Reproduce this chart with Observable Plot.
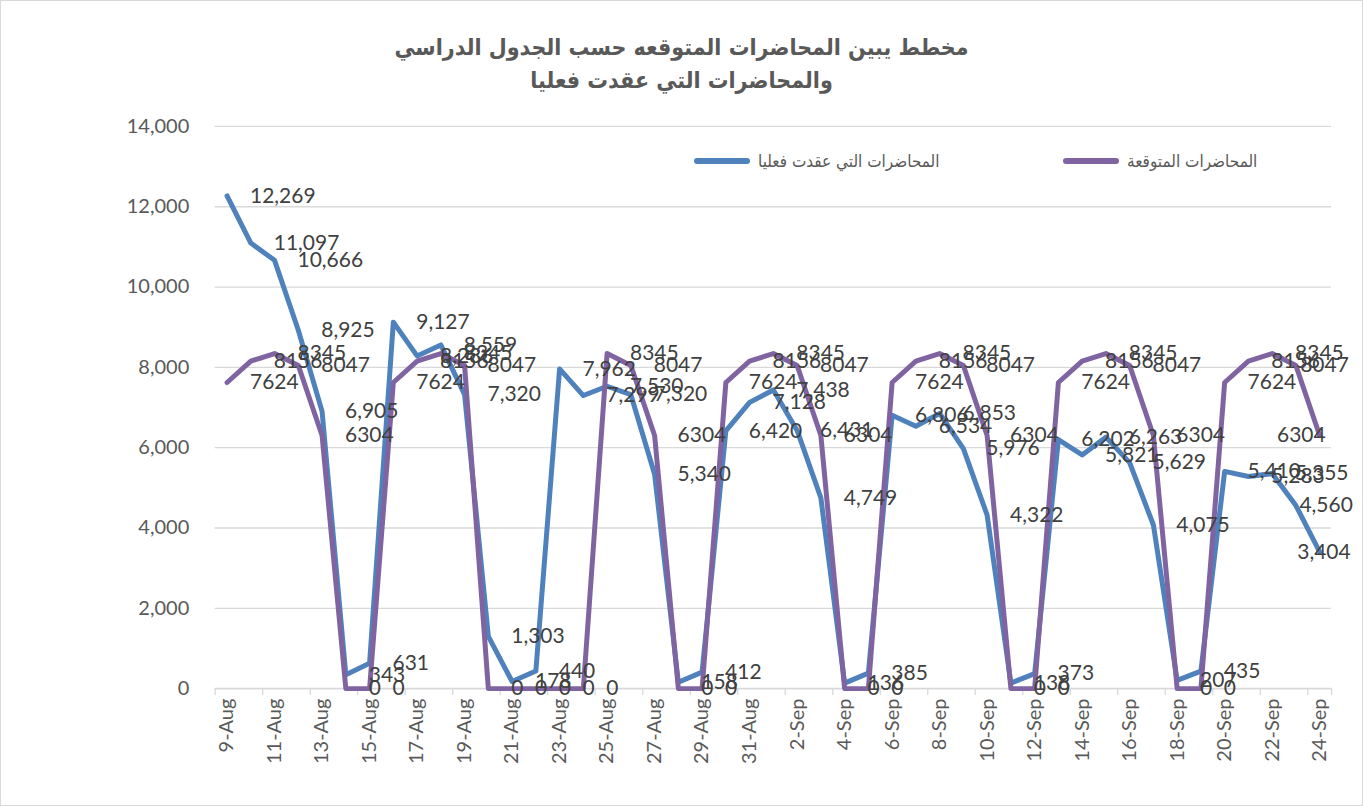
<!DOCTYPE html>
<html><head><meta charset="utf-8">
<script src="https://cdn.jsdelivr.net/npm/d3@7"></script>
<script src="https://cdn.jsdelivr.net/npm/@observablehq/plot@0.6"></script>
<style>
body{margin:0;background:#fff;}
#frame{position:relative;width:1361px;height:804px;border:1px solid #d9d9d9;overflow:hidden;font-family:Lato,"DejaVu Sans",sans-serif;background:#fff;}
#title{position:absolute;top:30px;left:0;width:100%;text-align:center;font-weight:bold;font-size:23px;font-family:"DejaVu Sans Condensed","DejaVu Sans",sans-serif;color:#595959;line-height:33px;direction:rtl;}
.leg{position:absolute;top:149px;height:22px;display:flex;align-items:center;direction:ltr;font-family:"DejaVu Sans Condensed","DejaVu Sans",sans-serif;font-size:17px;color:#595959;}
.sw{display:inline-block;width:56px;height:6px;border-radius:3px;margin-right:8px;}
#chart{position:absolute;top:100px;left:0;}
</style>
</head><body>
<div id="frame">
  <div id="title">مخطط يبين المحاضرات المتوقعه حسب الجدول الدراسي<br>والمحاضرات التي عقدت فعليا</div>
  <div class="leg" style="left:693px"><span class="sw" id="sw1"></span><span id="lt1"></span></div>
  <div class="leg" style="left:1062px"><span class="sw" id="sw2"></span><span id="lt2"></span></div>
  <div id="chart"></div>
</div>
<script>
const categories = ["9-Aug","10-Aug","11-Aug","12-Aug","13-Aug","14-Aug","15-Aug","16-Aug","17-Aug","18-Aug","19-Aug","20-Aug","21-Aug","22-Aug","23-Aug","24-Aug","25-Aug","26-Aug","27-Aug","28-Aug","29-Aug","30-Aug","31-Aug","1-Sep","2-Sep","3-Sep","4-Sep","5-Sep","6-Sep","7-Sep","8-Sep","9-Sep","10-Sep","11-Sep","12-Sep","13-Sep","14-Sep","15-Sep","16-Sep","17-Sep","18-Sep","19-Sep","20-Sep","21-Sep","22-Sep","23-Sep","24-Sep"];
const actual = [12269,11097,10666,8925,6905,343,631, 9127,8286,8559,7320,1303,178,440, 7962,7299,7530,7320,5340,158,412, 6420,7128,7438,6431,4749,136,385, 6806,6534,6853,5976,4322,138,373, 6202,5821,6263,5629,4075,207,435, 5410,5283,5355,4560,3404];
const expected = [7624,8156,8345,8047,6304,0,0, 7624,8156,8345,8047,0,0,0, 0,0,8345,8047,6304,0,0, 7624,8156,8345,8047,6304,0,0, 7624,8156,8345,8047,6304,0,0, 7624,8156,8345,8047,6304,0,0, 7624,8156,8345,8047,6304];
const yTicks = [0,2000,4000,6000,8000,10000,12000,14000];
const seriesNames = ["المحاضرات التي عقدت فعليا","المحاضرات المتوقعة"];
const colors = ["#4f81bd","#8064a2"];

document.getElementById("lt1").textContent = seriesNames[0];
document.getElementById("lt2").textContent = seriesNames[1];
document.getElementById("sw1").style.background = colors[0];
document.getElementById("sw2").style.background = colors[1];

const data = categories.map((c,i)=>({c, i, actual: actual[i], expected: expected[i]}));
const n = categories.length;
const W = 1363, mL = 214, mR = 31;
const step = (W - mL - mR) / n;
const labelCats = categories.filter((c,i)=> i % 2 === 0);
const fmt = d3.format(",");
// labels near the right edge are pulled inside the chart area (as the spreadsheet does)
const inner = data.filter(d => d.i < n - 2);
const pen = data.filter(d => d.i === n - 2);
const last = data.filter(d => d.i === n - 1);
const lab = {textAnchor: "start", fontSize: 21, fill: "#404040"};
const labEnd = {textAnchor: "end", fontSize: 21, fill: "#404040"};

const chart = Plot.plot({
  width: W, height: 706,
  marginTop: 25, marginBottom: 118, marginLeft: mL, marginRight: mR,
  style: {fontFamily: "Lato, sans-serif", background: "transparent"},
  x: {type: "point", domain: categories, padding: 0.5},
  y: {domain: [0, 14000]},
  marks: [
    Plot.gridY(yTicks.slice(1), {stroke: "#d9d9d9", strokeOpacity: 1, strokeWidth: 1.3}),
    Plot.axisY(yTicks, {tickSize: 0, tickPadding: 26, tickFormat: fmt, fontSize: 20, fill: "#595959", label: null}),
    Plot.ruleY([0], {stroke: "#d9d9d9", strokeWidth: 1.6}),
    Plot.axisX(labelCats, {tickSize: 7, tickFormat: null, dx: -step/2, stroke: "#d9d9d9", strokeWidth: 1.3, label: null}),
    Plot.axisX([categories[n-1]], {tickSize: 7, tickFormat: null, dx: step/2, stroke: "#d9d9d9", strokeWidth: 1.3, label: null}),
    Plot.axisX(labelCats, {tickSize: 0, tickRotate: -90, tickPadding: 10, fontSize: 20, fill: "#595959", label: null}),
    Plot.line(data, {x: "c", y: "actual", stroke: colors[0], strokeWidth: 5}),
    Plot.line(data, {x: "c", y: "expected", stroke: colors[1], strokeWidth: 5}),
    Plot.text(inner, {x: "c", y: "actual", text: d => fmt(d.actual), dx: 23, ...lab}),
    Plot.text(inner, {x: "c", y: "expected", text: d => String(d.expected), dx: 23, ...lab}),
    Plot.text(pen, {x: "c", y: "actual", text: d => fmt(d.actual), dx: 57, ...labEnd}),
    Plot.text(pen, {x: "c", y: "expected", text: d => String(d.expected), dx: 53, ...labEnd}),
    Plot.text(last, {x: "c", y: "actual", text: d => fmt(d.actual), dx: 31, ...labEnd}),
    Plot.text(last, {x: "c", y: "expected", text: d => String(d.expected), dx: 6, ...labEnd})
  ]
});
document.getElementById("chart").appendChild(chart);
</script>
</body></html>
